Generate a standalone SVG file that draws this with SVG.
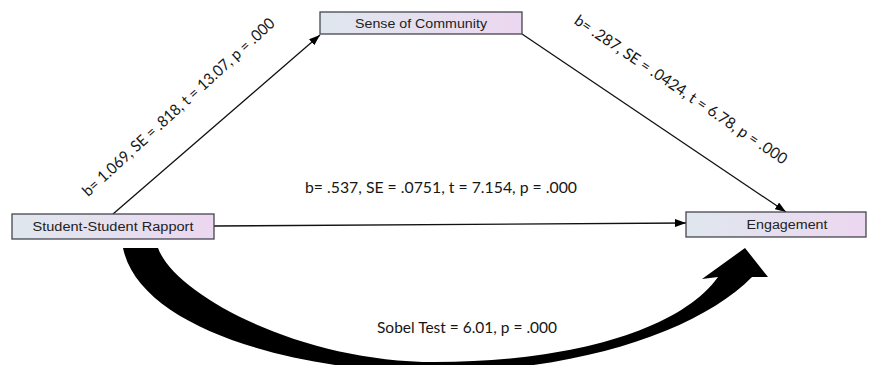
<svg xmlns="http://www.w3.org/2000/svg" width="880" height="365" viewBox="0 0 880 365">
  <defs>
    <linearGradient id="boxFill" x1="0" y1="0" x2="1" y2="0">
      <stop offset="0" stop-color="#dfe7ee"/>
      <stop offset="1" stop-color="#ecd7f0"/>
    </linearGradient>
    <marker id="tip" viewBox="0 0 11 8" refX="11" refY="4" markerWidth="11" markerHeight="8" markerUnits="userSpaceOnUse" orient="auto">
      <path d="M0,0 L11,4 L0,8 Z" fill="#000"/>
    </marker>
    <style>
      .box { fill: url(#boxFill); stroke: #45454f; stroke-width: 1.3; }
      .node-label { font-family: "Liberation Sans", Arial, sans-serif; font-size: 12.5px; fill: #222; text-anchor: middle; }
      .stat { font-family: Lato, "Open Sans", sans-serif; font-size: 15.5px; fill: #161616; text-anchor: middle; }
      .link { stroke: #111; stroke-width: 1.3; fill: none; marker-end: url(#tip); }
    </style>
  </defs>
  <rect width="880" height="365" fill="#fff"/>

  <!-- connectors -->
  <g id="connectors">
    <line class="link" x1="113" y1="214" x2="320" y2="35"/>
    <line class="link" x1="522" y1="34" x2="786" y2="212"/>
    <line class="link" x1="214" y1="226" x2="686" y2="223"/>
    <!-- indirect (Sobel) effect: thick curved arrow -->
    <path id="sobel-arrow" fill="#000" d="M123,248 C140,330 300,372 430,372 C580,372 700,330 752,277 L768,277 L745,248 L702,279 L718,277 C680,330 570,362 435,362 C300,362 175,295 158,248 Z"/>
  </g>

  <!-- path labels -->
  <g id="labels">
    <text class="stat" transform="translate(182,111) rotate(-42.6)" textLength="255" lengthAdjust="spacingAndGlyphs">b= 1.069, SE = .818, t = 13.07, p = .000</text>
    <text class="stat" transform="translate(678,94) rotate(34.1)" textLength="253" lengthAdjust="spacingAndGlyphs">b= .287, SE = .0424, t = 6.78, p = .000</text>
    <text class="stat" x="441" y="193" textLength="272" lengthAdjust="spacingAndGlyphs">b= .537, SE = .0751, t = 7.154, p = .000</text>
    <text class="stat" x="467" y="333" textLength="180" lengthAdjust="spacingAndGlyphs">Sobel Test = 6.01, p = .000</text>
  </g>

  <!-- nodes -->
  <g id="sense-of-community">
    <rect class="box" x="320" y="12" width="202" height="22"/>
    <text class="node-label" x="421" y="27.5" textLength="132" lengthAdjust="spacingAndGlyphs">Sense of Community</text>
  </g>
  <g id="student-student-rapport">
    <rect class="box" x="12" y="214" width="202" height="25"/>
    <text class="node-label" x="113" y="231" textLength="161" lengthAdjust="spacingAndGlyphs">Student-Student Rapport</text>
  </g>
  <g id="engagement">
    <rect class="box" x="686" y="212" width="180" height="25"/>
    <text class="node-label" x="787" y="228.5" textLength="81" lengthAdjust="spacingAndGlyphs">Engagement</text>
  </g>
</svg>
